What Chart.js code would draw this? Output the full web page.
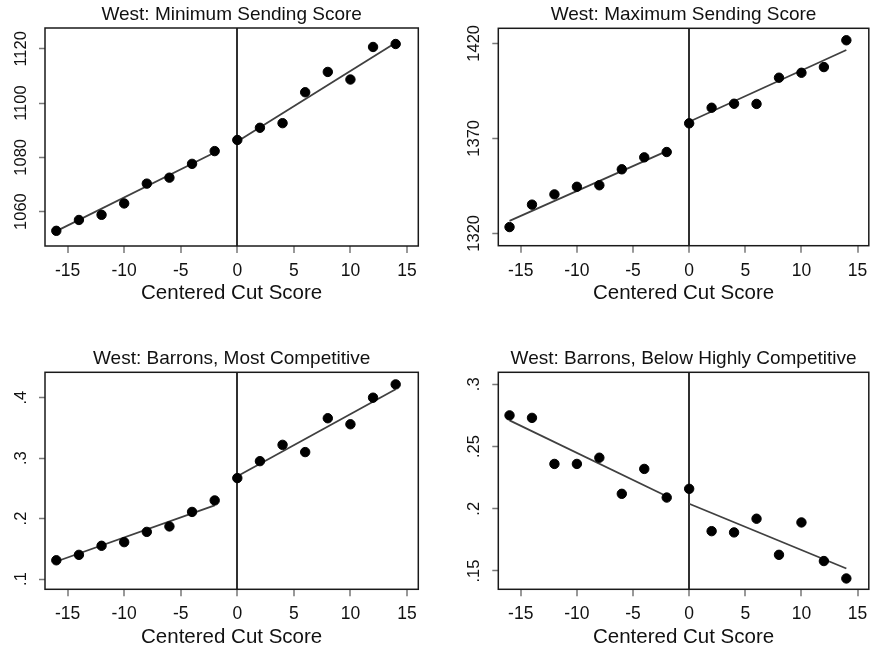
<!DOCTYPE html>
<html lang="en">
<head>
<meta charset="UTF-8">
<title>West: Sending Scores and Barrons Ratings</title>
<script src="https://cdn.jsdelivr.net/npm/chart.js"></script>
<style>
  body { margin: 0; background: #fff; }
  .panel { position: absolute; }
</style>
</head>
<body>
<div class="panel" style="left:0;top:0;width:437px;height:320px"><canvas id="minChart"></canvas></div>
<div class="panel" style="left:437px;top:0;width:438px;height:320px"><canvas id="maxChart"></canvas></div>
<div class="panel" style="left:0;top:320px;width:437px;height:335px"><canvas id="mostChart"></canvas></div>
<div class="panel" style="left:437px;top:320px;width:438px;height:335px"><canvas id="belowChart"></canvas></div>

<script>
// bins of the centered cut score
const cutScores = [-16, -14, -12, -10, -8, -6, -4, -2, 0, 2, 4, 6, 8, 10, 12, 14];
const xTicks = [-15, -10, -5, 0, 5, 10, 15];
const leftFitX = [-16, -2];
const rightFitX = [0, 14];

// West: Minimum Sending Score
const minScore = [1052.9, 1056.9, 1058.8, 1063.0, 1070.3, 1072.5, 1077.6, 1082.3,
                  1086.4, 1090.9, 1092.6, 1104.0, 1111.5, 1108.7, 1120.7, 1121.8];
const minFitLeft = [1052.8, 1081.8];
const minFitRight = [1085.8, 1122.3];
const minTicks = [1060, 1080, 1100, 1120];
const minTickLabels = ['1060', '1080', '1100', '1120'];

// West: Maximum Sending Score
const maxScore = [1323.3, 1335.1, 1340.5, 1344.5, 1345.3, 1353.7, 1360.0, 1362.8,
                  1377.9, 1386.1, 1388.2, 1388.1, 1401.9, 1404.5, 1407.5, 1421.6];
const maxFitLeft = [1326.6, 1363.3];
const maxFitRight = [1378.7, 1416.5];
const maxTicks = [1320, 1370, 1420];
const maxTickLabels = ['1320', '1370', '1420'];

// West: Barrons, Most Competitive
const mostShare = [.131, .140, .155, .161, .178, .187, .211, .230,
                   .267, .295, .322, .310, .366, .356, .400, .422];
const mostFitLeft = [.129, .222];
const mostFitRight = [.270, .414];
const mostTicks = [.1, .2, .3, .4];
const mostTickLabels = ['.1', '.2', '.3', '.4'];

// West: Barrons, Below Highly Competitive
const belowShare = [.275, .273, .236, .236, .241, .212, .232, .209,
                    .216, .182, .181, .192, .163, .189, .158, .144];
const belowFitLeft = [.271, .210];
const belowFitRight = [.204, .152];
const belowTicks = [.15, .2, .25, .3];
const belowTickLabels = ['.15', '.2', '.25', '.3'];

const FAMILY = "'Liberation Sans', Arial, Helvetica, sans-serif";
const Y_FAMILY = "'Liberation Sans Narrow', 'Liberation Sans', Arial, sans-serif";
const Y_SIZE = 16.5;

function widestLabel(labels) {
  const ctx = document.createElement('canvas').getContext('2d');
  ctx.font = Y_SIZE + 'px ' + Y_FAMILY;
  return Math.max(...labels.map(l => ctx.measureText(l).width));
}

// full rectangle round the plot region
const frame = {
  id: 'frame',
  afterDatasetsDraw(chart) {
    const { ctx, chartArea: a } = chart;
    ctx.save();
    ctx.strokeStyle = '#1a1a1a';
    ctx.lineWidth = 1.5;
    ctx.strokeRect(a.left, a.top, a.right - a.left, a.bottom - a.top);
    ctx.restore();
  }
};

function pairs(xs, ys) {
  return xs.map((x, i) => ({ x: x, y: ys[i] }));
}

function fitLine(xs, ys) {
  return {
    type: 'line',
    data: pairs(xs, ys),
    borderColor: '#404040',
    borderWidth: 1.8,
    pointRadius: 0,
    fill: false
  };
}

function makePanel(id, opt) {
  const tickLen = 6;
  const yPad = 24 - tickLen - widestLabel(opt.tickLabels) / 2;
  new Chart(document.getElementById(id), {
    type: 'scatter',
    data: {
      datasets: [
        {
          data: pairs(cutScores, opt.values),
          backgroundColor: '#000',
          borderColor: '#000',
          pointRadius: 4.7,
          pointHoverRadius: 4.7
        },
        fitLine(leftFitX, opt.fitLeft),
        fitLine(rightFitX, opt.fitRight)
      ]
    },
    options: {
      responsive: true,
      maintainAspectRatio: false,
      animation: false,
      layout: {
        autoPadding: false,
        padding: { left: 0, top: 0, right: opt.padRight, bottom: opt.padBottom }
      },
      plugins: {
        legend: { display: false },
        tooltip: { enabled: false },
        title: {
          display: true,
          text: opt.title,
          fullSize: false,
          color: '#111',
          font: { family: FAMILY, size: 19, weight: 'normal', lineHeight: 1.2 },
          padding: { top: opt.titleTop, bottom: 2 }
        }
      },
      scales: {
        x: {
          type: 'linear',
          min: -17,
          max: 16,
          afterBuildTicks: s => { s.ticks = xTicks.map(v => ({ value: v })); },
          afterFit: s => { s.height = 60; },
          border: { display: false },
          grid: {
            color: c => (c.tick && c.tick.value === 0) ? '#303030' : 'rgba(0,0,0,0)',
            lineWidth: 2,
            tickColor: '#777',
            tickWidth: 1.5,
            tickLength: 7
          },
          ticks: {
            color: '#111',
            padding: 7.5,
            maxRotation: 0,
            font: { family: FAMILY, size: 17.5 },
            callback: v => String(v)
          },
          title: {
            display: true,
            text: 'Centered Cut Score',
            color: '#111',
            padding: { top: 0, bottom: 0 },
            font: { family: FAMILY, size: 20.5, lineHeight: 1.2 }
          }
        },
        y: {
          type: 'linear',
          min: opt.yMin,
          max: opt.yMax,
          afterBuildTicks: s => { s.ticks = opt.ticks.map(v => ({ value: v })); },
          afterFit: s => { s.width = opt.axisWidth; },
          border: { display: false },
          grid: {
            drawOnChartArea: false,
            tickColor: '#777',
            tickWidth: 1.5,
            tickLength: tickLen
          },
          ticks: {
            color: '#111',
            minRotation: 90,
            maxRotation: 90,
            crossAlign: 'center',
            padding: yPad,
            font: { family: Y_FAMILY, size: Y_SIZE },
            callback: (v, i) => opt.tickLabels[i]
          }
        }
      }
    },
    plugins: [frame]
  });
}

makePanel('minChart', {
  title: 'West: Minimum Sending Score',
  values: minScore, fitLeft: minFitLeft, fitRight: minFitRight,
  ticks: minTicks, tickLabels: minTickLabels,
  yMin: 1047.3, yMax: 1127.7,
  axisWidth: 45, padRight: 18.7, padBottom: 14, titleTop: 3.2
});
makePanel('maxChart', {
  title: 'West: Maximum Sending Score',
  values: maxScore, fitLeft: maxFitLeft, fitRight: maxFitRight,
  ticks: maxTicks, tickLabels: maxTickLabels,
  yMin: 1313.5, yMax: 1427.9,
  axisWidth: 61.3, padRight: 4.3, padBottom: 14.3, titleTop: 3.5
});
makePanel('mostChart', {
  title: 'West: Barrons, Most Competitive',
  values: mostShare, fitLeft: mostFitLeft, fitRight: mostFitRight,
  ticks: mostTicks, tickLabels: mostTickLabels,
  yMin: 0.083, yMax: 0.442,
  axisWidth: 45, padRight: 18.7, padBottom: 5.7, titleTop: 27.5
});
makePanel('belowChart', {
  title: 'West: Barrons, Below Highly Competitive',
  values: belowShare, fitLeft: belowFitLeft, fitRight: belowFitRight,
  ticks: belowTicks, tickLabels: belowTickLabels,
  yMin: 0.1353, yMax: 0.3096,
  axisWidth: 61.3, padRight: 4.3, padBottom: 5.7, titleTop: 27.5
});
</script>
</body>
</html>
